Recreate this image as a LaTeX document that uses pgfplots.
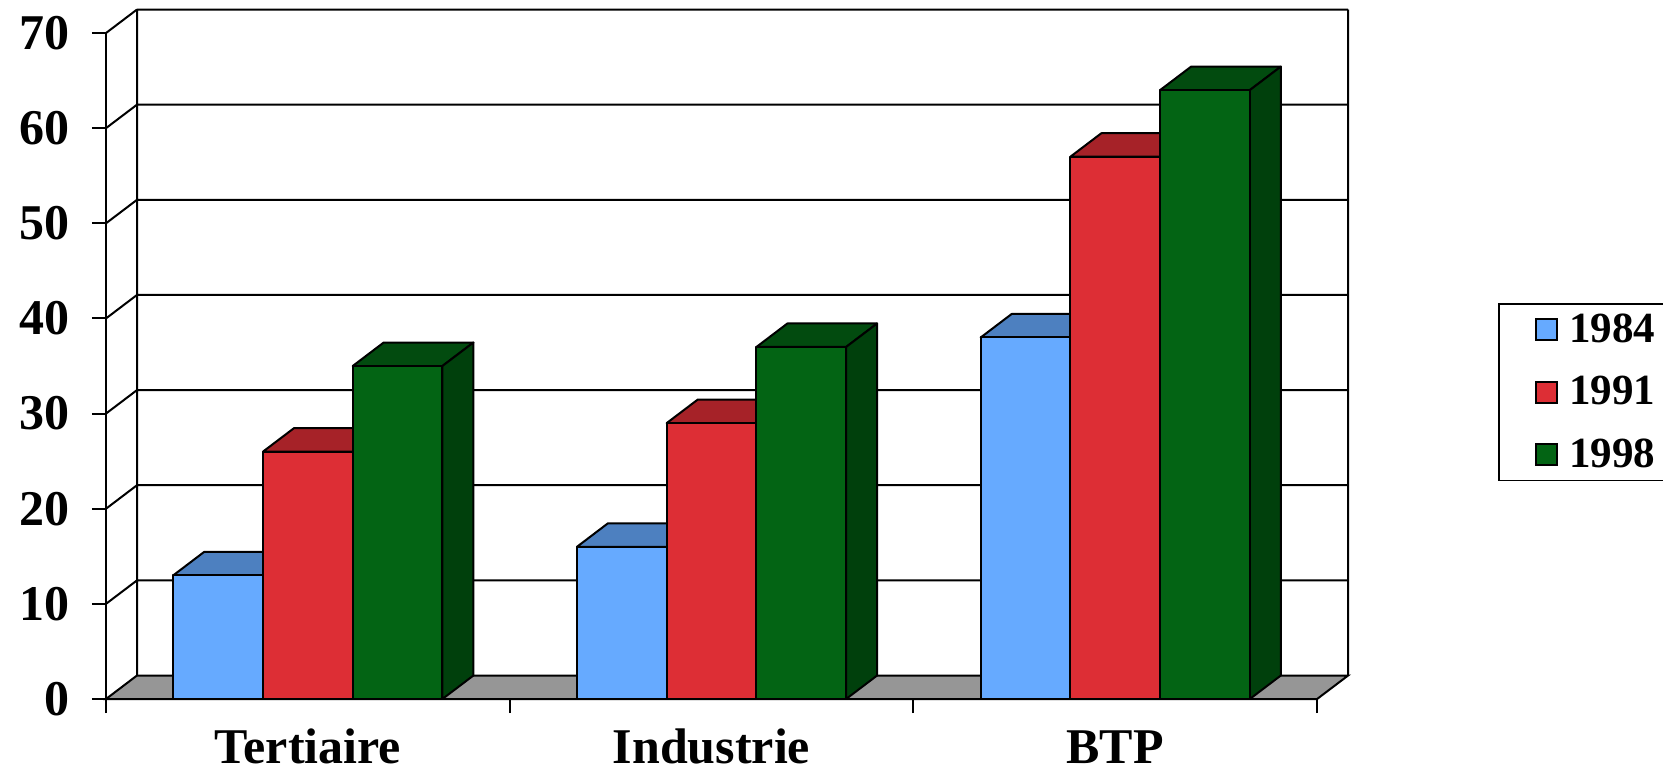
\documentclass[border=0pt]{standalone}
\usepackage{pgfplots}
\pgfplotsset{compat=1.18}
\usepackage{pgfplotstable}
\usepackage{fontspec}
\setmainfont{Liberation Serif}

\definecolor{c84}{HTML}{66AAFF}
\definecolor{c84top}{HTML}{4D80C0}
\definecolor{c84side}{HTML}{3A6399}
\definecolor{c91}{HTML}{DD2E35}
\definecolor{c91top}{HTML}{A62228}
\definecolor{c91side}{HTML}{8A1C21}
\definecolor{c98}{HTML}{036414}
\definecolor{c98top}{HTML}{024B0F}
\definecolor{c98side}{HTML}{00400C}
\definecolor{floorgray}{HTML}{969696}

\pgfplotstableread{
cat v1984 v1991 v1998
0 13 26 35
1 16 29 37
2 38 57 64
}\datatable

\def\ddx{0.0768}
\def\ddy{2.47}

% #1 category row, #2 column name, #3 series index, #4 colour name
\newcommand\drawbar[4]{%
  \pgfplotstablegetelem{#1}{#2}\of\datatable
  \pgfmathsetmacro\vv{\pgfplotsretval}%
  \pgfmathsetmacro\vt{\vv+\ddy}%
  \pgfmathsetmacro\xa{#1+1/6+#3*2/9}%
  \pgfmathsetmacro\xb{\xa+2/9}%
  \pgfmathsetmacro\xc{\xa+\ddx}%
  \pgfmathsetmacro\xd{\xb+\ddx}%
  \edef\tmp{%
    \noexpand\addplot[barface,fill=#4top] coordinates {(\xa,\vv) (\xc,\vt) (\xd,\vt) (\xb,\vv)} -- cycle;
    \noexpand\addplot[barface,fill=#4side] coordinates {(\xb,0) (\xd,\ddy) (\xd,\vt) (\xb,\vv)} -- cycle;
    \noexpand\addplot[barface,fill=#4] coordinates {(\xa,0) (\xa,\vv) (\xb,\vv) (\xb,0)} -- cycle;
  }\tmp
}

\begin{document}
\begin{tikzpicture}
\begin{axis}[
  x=201.85pt, y=4.757pt,
  xmin=0, xmax=3, ymin=0, ymax=70,
  clip=false,
  axis x line=bottom, axis y line=left,
  axis line style={-, line width=1pt, black},
  tick align=outside, major tick length=7pt,
  tick style={black, line width=1pt},
  ytick={0,10,...,70},
  xtick={0,1,2,3}, xticklabels={},
  extra x ticks={0.5,1.5,2.5},
  extra x tick labels={Tertiaire,Industrie,BTP},
  extra x tick style={major tick length=0pt},
  /pgf/number format/assume math mode=true,
  yticklabel style={font=\fontsize{25}{29}\selectfont\bfseries, anchor=east, xshift=-7.5pt},
  xticklabel style={font=\fontsize{25}{29}\selectfont\bfseries, anchor=base, inner sep=0pt, text depth=0pt, yshift=-32pt},
  legend style={at={(axis description cs:1.1495,0.5946)}, anchor=north west,
    draw=black, line width=0.75pt, font=\fontsize{21.5}{26}\selectfont\bfseries,
    inner xsep=5.5pt, inner ysep=5pt, row sep=15.5pt,
    nodes={inner sep=0pt}},
  legend cell align=left,
  legend image code/.code={\path (0pt,0pt) (29pt,0pt); \draw[#1,line width=1pt] (12.5pt,-5.25pt) rectangle (23pt,5.25pt);},
  barface/.style={draw=black, line width=1pt, line join=round, forget plot},
]
\addlegendimage{fill=c84, draw=black}
\addlegendentry{1984}
\addlegendimage{fill=c91, draw=black}
\addlegendentry{1991}
\addlegendimage{fill=c98, draw=black}
\addlegendentry{1998}

% floor
\addplot[fill=floorgray, draw=black, line width=1pt, forget plot]
  coordinates {(0,0) (3,0) (3.0768,2.47) (0.0768,2.47)} -- cycle;
% back wall and side wall lines
\addplot[black, line width=1pt, unbounded coords=jump, forget plot] coordinates {
  (0,10) (0.0768,12.47) (nan,nan)
  (0,20) (0.0768,22.47) (nan,nan)
  (0,30) (0.0768,32.47) (nan,nan)
  (0,40) (0.0768,42.47) (nan,nan)
  (0,50) (0.0768,52.47) (nan,nan)
  (0,60) (0.0768,62.47) (nan,nan)
  (0,70) (0.0768,72.47) (nan,nan)
  (0.0768,2.47) (0.0768,72.47) (nan,nan)
  (3.0768,2.47) (3.0768,72.47) (nan,nan)
  (0.0768,12.47) (3.0768,12.47) (nan,nan)
  (0.0768,22.47) (3.0768,22.47) (nan,nan)
  (0.0768,32.47) (3.0768,32.47) (nan,nan)
  (0.0768,42.47) (3.0768,42.47) (nan,nan)
  (0.0768,52.47) (3.0768,52.47) (nan,nan)
  (0.0768,62.47) (3.0768,62.47) (nan,nan)
  (0.0768,72.47) (3.0768,72.47)
};

\drawbar{0}{v1984}{0}{c84}
\drawbar{0}{v1991}{1}{c91}
\drawbar{0}{v1998}{2}{c98}
\drawbar{1}{v1984}{0}{c84}
\drawbar{1}{v1991}{1}{c91}
\drawbar{1}{v1998}{2}{c98}
\drawbar{2}{v1984}{0}{c84}
\drawbar{2}{v1991}{1}{c91}
\drawbar{2}{v1998}{2}{c98}

\coordinate (bbll) at (axis cs:-0.26257,-8.0933);
\coordinate (bbur) at (axis cs:3.85683,73.471);
\end{axis}
\pgfresetboundingbox
\path (bbll) rectangle (bbur);
\end{tikzpicture}
\end{document}
